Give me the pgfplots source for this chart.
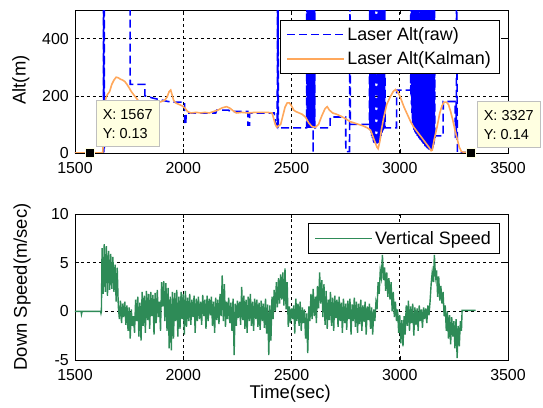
\documentclass[border=0pt]{standalone}
\usepackage{fontspec}
\setmainfont{Liberation Sans}
\usepackage{pgfplots}
\pgfplotsset{compat=1.18}
\definecolor{rawblue}{RGB}{0,0,255}
\definecolor{kalorange}{RGB}{255,168,92}
\definecolor{vsgreen}{RGB}{46,139,87}
\definecolor{tipyellow}{RGB}{255,255,225}
\newcommand\tickfont{\fontsize{16}{18}\selectfont}
\newcommand\labfont{\fontsize{18.5}{20}\selectfont}
\newcommand\legfont{\fontsize{18}{20}\selectfont}
\newcommand\tipfont{\fontsize{14.5}{19}\selectfont}
\pgfplotsset{
  matlabaxis/.style={
    width=433bp, scale only axis,
    xmin=1500, xmax=3500,
    xtick={1500,2000,2500,3000,3500},
    grid=major,
    major grid style={black, dash pattern=on 3bp off 3bp, line width=0.55bp},
    axis line style={black, line width=0.6bp},
    tick style={black, line width=0.5bp},
    major tick length=4bp,
    ticklabel style={font=\tickfont, inner sep=1bp},
    xticklabel shift=8.5bp,
    yticklabel shift=5bp,
    label style={font=\labfont},
    /pgf/number format/assume math mode=true,
    /pgf/number format/1000 sep={},
    clip mode=individual,
    legend cell align=left,
  },
  tipmark/.style={only marks, mark=square*, mark size=4.5bp,
    mark options={fill=black, draw=tipyellow, line width=1bp}},
}
\tikzset{
  tipbox/.style={anchor=south west, fill=tipyellow, draw=black!25, line width=0.6bp,
    align=left, font=\tipfont, inner xsep=7bp, inner ysep=8.5bp},
}
\begin{document}
\begin{tikzpicture}
\path[use as bounding box] (-75bp,10bp) rectangle (468bp,-398bp);
% ---------------- top axis ----------------
\begin{axis}[matlabaxis,
  at={(0bp,0bp)}, anchor=north west,
  height=143bp,
  ymin=0, ymax=500, ytick={0,200,400},
  ylabel={Alt(m)},
  ylabel style={at={(axis description cs:-0.125,0.51)}, anchor=center},
  legend style={at={(1,1)}, anchor=north east, xshift=-9bp, yshift=-10bp,
    draw=black, font=\legfont, fill=white,
    inner xsep=6bp, inner ysep=5bp, row sep=6bp},
]
\addplot[rawblue, line width=1.6bp, dash pattern=on 8bp off 4bp,
  legend image code/.code={\draw[rawblue, line width=1.8bp, dash pattern=on 8bp off 4bp] (0bp,0bp) -- (57bp,0bp);}] coordinates {
(1500,0)(1631,0)(1632,700)(1633,0)(1634,700)(1635,10)(1636,700)(1754,700)(1755,240)
(1822,240)(1823,200)(1860,192)(1900,185)(1930,180)(1960,178)(2006,178)(2007,100)(2012,100)
(2013,140)(2150,140)(2155,150)(2210,150)(2215,145)(2298,145)(2299,98)(2306,98)(2307,140)
(2420,140)(2425,110)(2434,95)(2436,700)(2437,88)(2438,700)(2439,88)(2570,88)
(2571,700)(2572,88)(2573,700)(2574,88)(2575,700)(2576,88)(2577,700)(2578,88)(2579,700)
(2580,88)(2581,700)(2582,88)(2583,700)(2584,88)(2585,700)(2586,88)(2587,700)(2588,88)
(2589,700)(2590,88)(2591,700)(2592,88)(2593,700)(2594,88)(2595,700)(2596,88)(2597,700)
(2598,88)(2599,700)(2600,0)(2601,700)(2602,88)(2603,700)(2604,88)(2605,700)(2606,88)
(2607,700)(2608,88)(2678,88)(2679,126)(2750,126)(2751,5)(2768,5)(2770,700)(2772,100)(2860,100)
(2861,700)(2862,85)(2863,700)(2864,80)(2865,700)(2866,72)(2867,700)(2868,66)(2869,700)
(2870,60)(2871,700)(2872,55)(2873,700)(2874,50)(2875,700)(2876,46)(2877,700)(2878,42)
(2879,700)(2880,38)(2881,700)(2882,35)(2883,700)(2884,32)(2885,700)(2886,30)(2887,700)
(2888,28)(2889,700)(2890,28)(2891,700)(2892,28)(2893,700)(2894,28)(2895,700)(2896,29)
(2897,700)(2898,30)(2899,700)(2900,32)(2901,700)(2902,35)(2903,700)(2904,38)(2905,700)
(2906,42)(2907,700)(2908,46)(2909,700)(2910,50)(2911,700)(2912,55)(2913,700)(2914,60)
(2915,700)(2916,65)(2917,700)(2918,70)(2919,700)(2920,74)(2921,700)(2922,78)(2923,700)
(2924,82)(2925,700)(2926,85)(2927,700)(2928,88)(2929,700)(2930,88)(2931,700)(2932,88)
(2985,88)(2986,220)(3050,220)
(3051,700)(3052,200)(3053,700)(3054,170)(3055,700)(3056,140)(3057,700)(3058,120)(3059,700)
(3060,105)(3061,700)(3062,95)(3063,700)(3064,88)(3065,700)(3066,82)(3067,700)(3068,78)
(3069,700)(3070,75)(3071,700)(3072,72)(3073,700)(3074,70)(3075,700)(3076,67)(3077,700)
(3078,65)(3079,700)(3080,62)(3081,700)(3082,60)(3083,700)(3084,58)(3085,700)(3086,56)
(3087,700)(3088,54)(3089,700)(3090,52)(3091,700)(3092,50)(3093,700)(3094,48)(3095,700)
(3096,46)(3097,700)(3098,44)(3099,700)(3100,42)(3101,700)(3102,40)(3103,700)(3104,38)
(3105,700)(3106,36)(3107,700)(3108,34)(3109,700)(3110,32)(3111,700)(3112,30)(3113,700)
(3114,28)(3115,700)(3116,26)(3117,700)(3118,24)(3119,700)(3120,22)(3121,700)(3122,20)
(3123,700)(3124,19)(3125,700)(3126,18)(3127,700)(3128,16)(3129,700)(3130,15)(3131,700)
(3132,14)(3133,700)(3134,13)(3135,700)(3136,12)(3137,700)(3138,11)(3139,700)(3140,10)
(3141,700)(3142,10)(3143,700)(3144,10)(3145,700)(3146,10)(3147,700)(3148,12)(3149,700)
(3150,14)(3151,700)(3152,18)(3153,700)(3154,22)(3155,700)(3156,28)(3157,700)(3158,34)
(3159,700)(3160,40)(3161,700)(3162,50)(3164,60)(3200,60)(3201,180)(3256,180)
(3257,55)(3261,55)(3262,700)(3266,2)(3330,2)
};
\addlegendentry{Laser Alt(raw)}
\addplot[kalorange, line width=1.6bp,
  legend image code/.code={\draw[kalorange, line width=1.8bp] (0bp,0bp) -- (57bp,0bp);}] coordinates {
(1500,0)(1567,0.13)(1628,0)(1632,60)(1636,150)(1642,190)(1650,205)(1660,215)(1670,240)
(1680,255)(1690,265)(1700,263)(1710,258)(1720,255)(1730,250)(1740,240)(1750,228)(1760,215)
(1770,205)(1780,195)(1790,185)(1800,178)(1820,176)(1840,175)(1860,178)(1880,176)(1900,180)
(1915,185)(1925,195)(1935,215)(1942,220)(1948,205)(1955,185)(1965,175)(1980,170)(1995,165)
(2010,155)(2020,145)(2035,140)(2060,142)(2080,140)(2100,142)(2120,140)(2140,145)(2160,150)
(2180,158)(2200,162)(2215,157)(2230,148)(2245,140)(2270,142)(2300,140)(2330,142)(2360,142)
(2390,142)(2410,140)(2418,120)(2425,100)(2432,90)(2440,95)(2450,100)(2460,130)(2470,160)
(2480,175)(2490,175)(2500,165)(2510,150)(2520,145)(2535,140)(2550,135)(2565,125)(2580,105)
(2595,92)(2610,90)(2625,100)(2640,130)(2655,155)(2665,162)(2675,150)(2690,140)(2710,135)
(2730,128)(2750,120)(2770,110)(2790,105)(2810,100)(2830,95)(2850,88)(2865,80)(2875,60)
(2885,40)(2895,20)(2900,15)(2908,40)(2915,80)(2925,120)(2940,170)(2955,195)(2970,215)
(2980,222)(2990,215)(3000,200)(3010,180)(3020,160)(3035,135)(3050,110)(3065,90)(3080,75)
(3095,60)(3110,45)(3125,30)(3135,20)(3145,8)(3150,10)(3160,50)(3172,90)(3185,140)(3195,165)
(3205,178)(3215,178)(3225,170)(3235,145)(3245,115)(3255,80)(3265,50)(3275,20)(3285,5)
(3300,2)(3327,0.14)
};
\addlegendentry{Laser Alt(Kalman)}
\addplot[tipmark, forget plot] coordinates {(1567,0.13)};
\addplot[tipmark, forget plot] coordinates {(3327,0.14)};
\node[tipbox, xshift=6bp, yshift=6bp] at (axis cs:1567,0.13) {X: 1567\\Y: 0.13};
\node[tipbox, xshift=6bp, yshift=5bp] at (axis cs:3327,0.14) {X: 3327\\Y: 0.14};
\end{axis}
% ---------------- bottom axis ----------------
\begin{axis}[matlabaxis,
  at={(0bp,-204bp)}, anchor=north west,
  height=146bp,
  ymin=-5, ymax=10, ytick={-5,0,5,10},
  ylabel={Down Speed(m/sec)},
  ylabel style={at={(axis description cs:-0.122,0.5)}, anchor=center},
  xlabel={Time(sec)},
  xlabel style={at={(axis description cs:0.497,-0.23)}, anchor=center, inner sep=0pt},
  legend style={at={(1,1)}, anchor=north east, xshift=-9bp, yshift=-9bp,
    draw=black, font=\legfont, fill=white,
    inner xsep=6bp, inner ysep=6bp},
]
\addplot[vsgreen, line width=1.4bp,
  legend image code/.code={\draw[vsgreen, line width=1.8bp] (0bp,0bp) -- (57bp,0bp);}] coordinates {
(1500,0)(1528,0)(1530,-0.3)(1533,0)(1618,0)(1620,-0.2)(1622,0)
(1625,6.5)(1630,1.8)(1635,6.9)(1640,2.0)(1645,6.7)(1650,1.6)(1655,6.2)(1660,2.2)(1665,5.9)
(1670,2.3)(1675,5.6)(1680,2.0)(1685,4.8)(1690,1.0)(1695,4.5)(1700,0.5)
(1705,-0.8)(1710,1.1)(1715,-1.2)(1720,0.8)(1725,-0.6)(1730,1.0)(1735,-1.4)(1740,0.6)
(1745,-2.0)(1750,0.4)(1755,-2.8)(1760,0.2)(1765,-1.5)(1770,-0.5)(1775,-2.2)(1780,1.2)
(1785,-1.0)(1790,1.5)(1795,-2.6)(1800,0.9)(1805,-3.0)(1810,2.0)(1815,-1.5)(1820,1.6)
(1825,-2.2)(1830,2.1)(1835,-0.9)(1840,1.8)(1845,-1.8)(1850,2.0)(1855,-0.5)(1860,1.7)
(1865,-2.4)(1870,1.9)(1875,-1.2)(1880,2.2)(1885,-0.6)(1890,1.0)(1895,-2.0)(1900,3.0)
(1905,0.5)(1910,3.1)(1915,-1.0)(1920,2.9)(1925,-2.0)(1930,2.4)(1935,-3.8)(1940,1.5)
(1945,-4.0)(1950,2.0)(1955,-2.8)(1960,1.9)(1965,-1.0)(1970,2.2)(1975,-2.6)(1980,1.5)
(1985,-1.8)(1990,2.0)(1995,-0.8)(2000,1.8)(2005,-2.4)(2010,2.1)(2015,-1.6)(2020,1.4)
(2025,-1.0)(2030,1.8)(2035,-1.4)(2040,1.2)(2045,-0.6)(2050,1.6)(2055,-2.2)(2060,1.3)
(2065,-1.0)(2070,1.5)(2075,-0.8)(2080,1.0)(2085,-1.4)(2090,1.7)(2095,-0.5)(2100,1.2)
(2105,-1.8)(2110,1.6)(2115,-1.0)(2120,1.3)(2125,-0.4)(2130,1.5)(2135,-1.5)(2140,1.0)
(2145,-2.2)(2150,1.4)(2155,-0.9)(2160,1.2)(2165,-1.3)(2170,1.8)(2175,-0.5)(2180,3.7)
(2185,-1.0)(2190,2.8)(2195,-1.6)(2200,1.0)(2205,-0.8)(2210,1.4)(2215,-1.2)(2220,0.9)
(2225,-2.0)(2230,1.3)(2235,-4.5)(2240,0.8)(2245,-1.5)(2250,1.1)(2255,-0.7)(2260,1.0)
(2265,-1.4)(2270,2.5)(2275,-0.9)(2280,1.6)(2285,-1.8)(2290,1.2)(2295,-2.2)(2300,1.5)
(2305,-1.0)(2310,1.8)(2315,-1.5)(2320,1.0)(2325,-2.0)(2330,1.3)(2335,-0.8)(2340,1.2)
(2345,-1.6)(2350,0.9)(2355,-1.9)(2360,1.1)(2365,-1.0)(2370,0.8)(2375,-1.7)(2380,1.3)
(2385,-2.3)(2390,0.7)(2395,-4.5)(2400,0.6)(2405,-3.0)(2410,1.5)(2415,-0.8)(2420,2.2)
(2425,0.0)(2430,3.0)(2435,0.4)(2440,3.4)(2445,0.8)(2450,3.8)(2455,1.2)(2460,4.0)
(2465,0.6)(2470,4.4)(2475,0.2)(2480,3.0)(2485,-1.6)(2490,0.5)(2495,-1.2)(2500,0.3)
(2505,-0.8)(2510,0.6)(2515,-2.3)(2520,1.3)(2525,-1.0)(2530,0.8)(2535,-1.5)(2540,1.0)
(2545,-2.0)(2550,0.4)(2555,-1.2)(2560,0.2)(2565,-2.8)(2570,-0.2)(2575,-4.3)(2580,0.5)
(2585,-1.0)(2590,1.8)(2595,-0.8)(2600,2.3)(2605,-0.5)(2610,1.5)(2615,-1.2)(2620,2.6)
(2625,0.3)(2630,4.0)(2635,0.8)(2640,3.2)(2645,-0.6)(2650,2.8)(2655,-1.4)(2660,2.1)
(2665,-1.8)(2670,1.2)(2675,-0.9)(2680,2.0)(2685,-1.5)(2690,1.4)(2695,-2.0)(2700,1.6)
(2705,-0.7)(2710,1.2)(2715,-1.6)(2720,1.5)(2725,-1.0)(2730,0.9)(2735,-2.2)(2740,1.3)
(2745,-1.2)(2750,0.8)(2755,-1.9)(2760,1.1)(2765,-0.8)(2770,1.3)(2775,-2.4)(2780,0.7)
(2785,-1.0)(2790,1.4)(2795,-1.6)(2800,1.0)(2805,-2.2)(2810,0.8)(2815,-1.3)(2820,1.2)
(2825,-2.0)(2830,0.6)(2835,-1.1)(2840,1.0)(2845,-2.4)(2850,0.5)(2855,-0.9)(2860,0.8)
(2865,-1.8)(2870,0.4)(2875,-2.4)(2880,0.2)(2885,-1.0)(2890,0.9)(2895,0.2)(2900,3.0)
(2905,1.8)(2910,4.2)(2915,3.5)(2920,5.8)(2925,3.2)(2930,4.5)(2935,2.1)(2940,4.0)
(2945,1.5)(2950,3.4)(2955,1.2)(2960,3.0)(2965,0.0)(2970,2.0)(2975,-0.6)(2980,1.0)
(2985,-1.0)(2990,0.2)(2995,-2.2)(3000,-0.4)(3005,-3.3)(3010,-0.9)(3015,-3.6)(3020,-0.5)
(3025,-2.4)(3030,0.6)(3035,-1.5)(3040,1.1)(3045,-2.0)(3050,0.5)(3055,-1.2)(3060,0.8)
(3065,-2.5)(3070,0.4)(3075,-1.4)(3080,0.3)(3085,-2.0)(3090,0.6)(3095,-1.0)(3100,0.2)
(3105,-1.7)(3110,0.4)(3115,-0.8)(3120,0.3)(3125,-1.2)(3130,0.6)(3135,-0.4)(3140,1.0)
(3145,2.8)(3150,4.0)(3155,3.0)(3160,5.8)(3165,3.5)(3170,4.2)(3175,1.5)(3180,3.6)
(3185,1.1)(3190,2.6)(3195,0.8)(3200,2.0)(3205,-0.5)(3210,0.6)(3215,-2.0)(3220,0.0)
(3225,-2.8)(3230,-0.4)(3235,-3.4)(3240,-0.6)(3245,-2.6)(3250,-1.0)(3255,-3.8)(3260,-0.8)
(3265,-4.8)(3270,-1.5)(3275,-3.6)(3280,-1.0)(3285,-2.0)(3288,0.1)(3350,0.1)
};
\addlegendentry{Vertical Speed}
\end{axis}
\end{tikzpicture}
\end{document}
